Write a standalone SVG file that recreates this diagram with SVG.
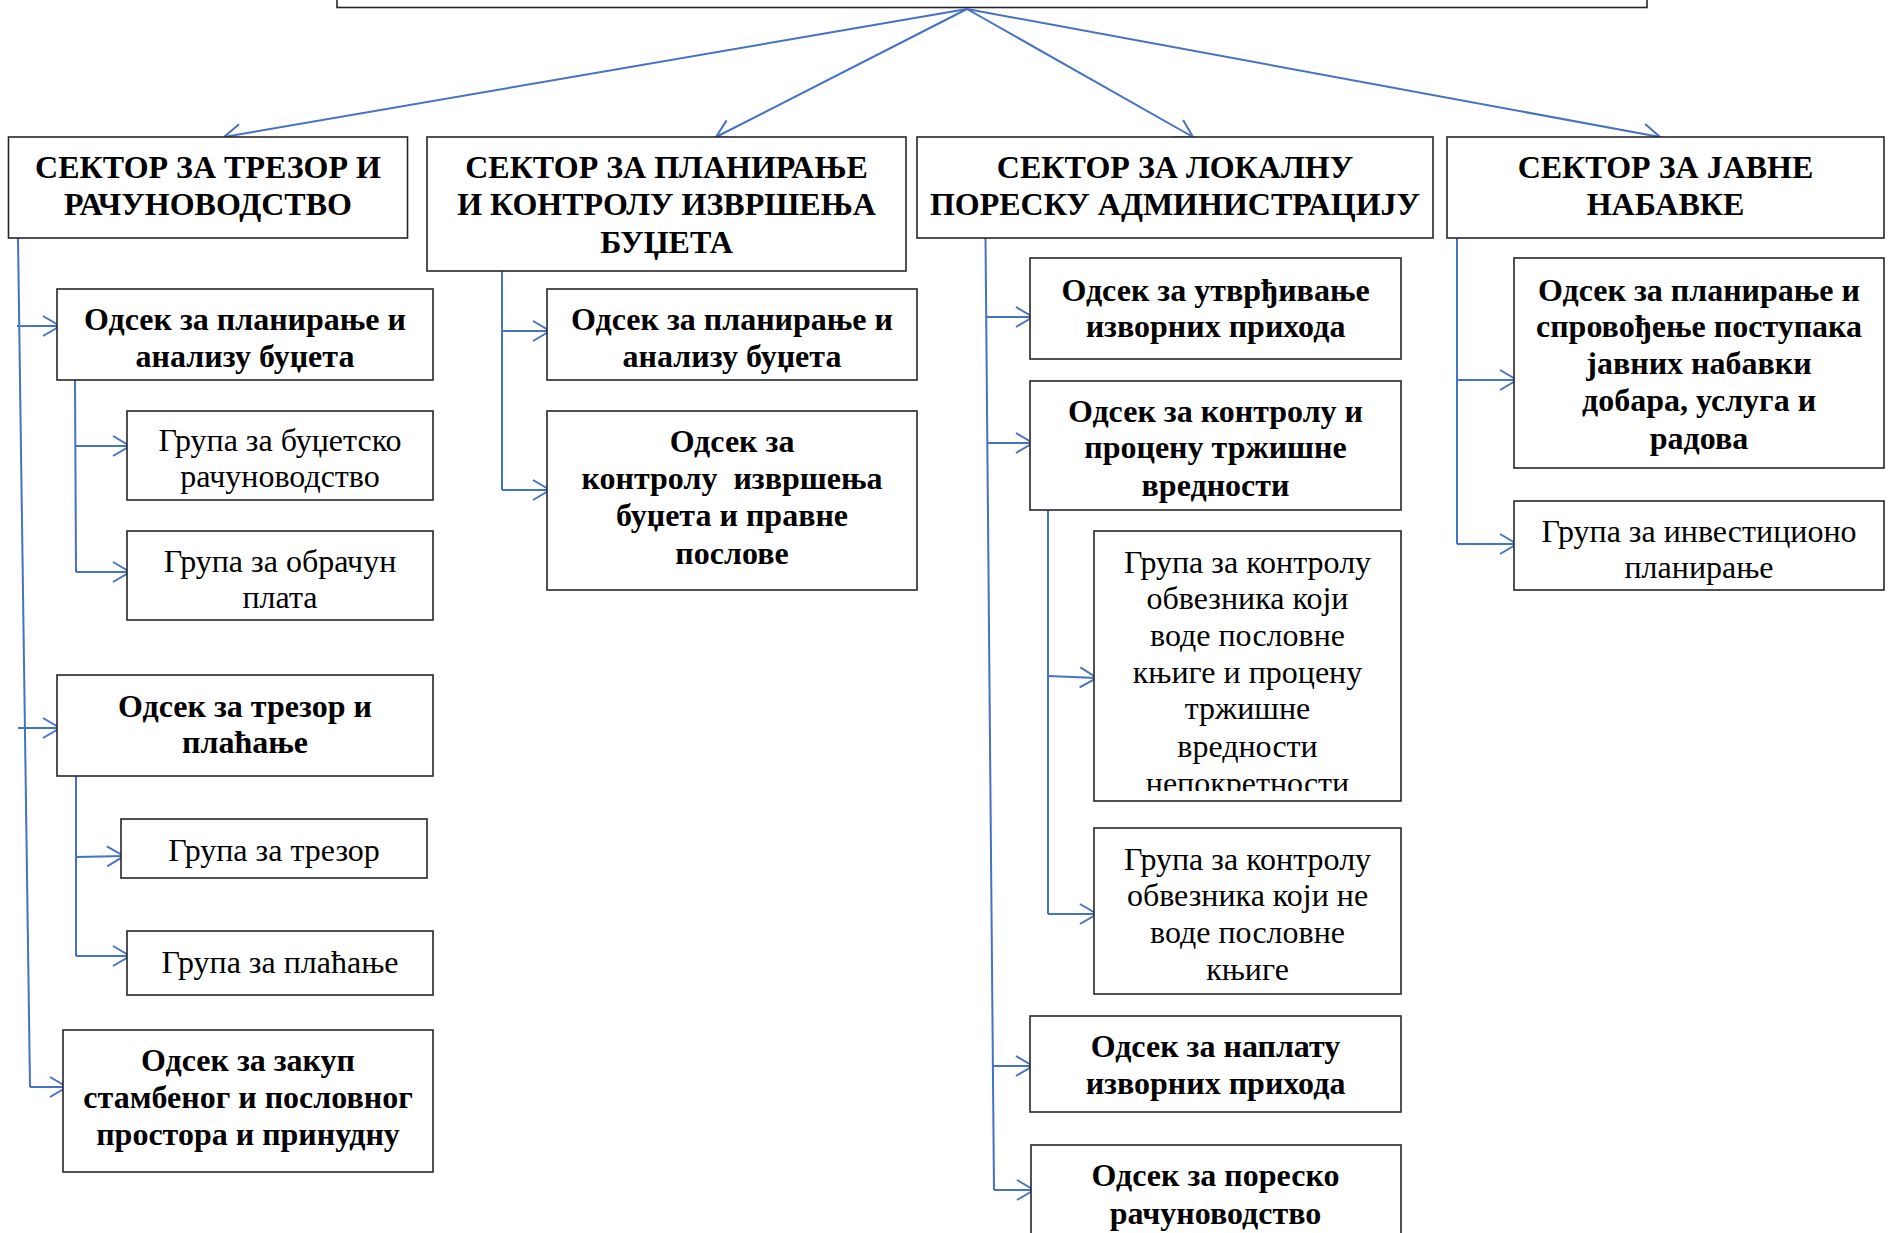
<svg xmlns="http://www.w3.org/2000/svg" width="1896" height="1233" viewBox="0 0 1896 1233">
<defs>
<style>
.box{fill:#fff;stroke:#262626;stroke-width:1.6}
.t{font-family:"Liberation Serif","Times New Roman",serif;font-size:32px;fill:#000;text-anchor:middle}
.b{font-weight:bold}
.h{font-weight:bold;font-size:32px}
.c{fill:none;stroke:#4472C4;stroke-width:2}
</style>
<marker id="ah" viewBox="0 0 19 22" refX="18" refY="11" markerWidth="19" markerHeight="22" orient="auto" markerUnits="userSpaceOnUse">
<path d="M1,1 L18,11 L1,21" fill="none" stroke="#4472C4" stroke-width="2"/>
</marker>
<clipPath id="clipC3"><rect x="1094" y="531" width="307" height="260"/></clipPath>
</defs>
<rect width="1896" height="1233" fill="#fff"/>

<g id="top"><rect class="box" x="337" y="-40" width="1310" height="47.5"/></g>

<g id="connectors">
<line class="c" x1="967" y1="9" x2="224" y2="137" marker-end="url(#ah)"/>
<line class="c" x1="967" y1="9" x2="716" y2="137" marker-end="url(#ah)"/>
<line class="c" x1="967" y1="9" x2="1193" y2="137" marker-end="url(#ah)"/>
<line class="c" x1="967" y1="9" x2="1660" y2="137" marker-end="url(#ah)"/>

<polyline class="c" points="18,238 30,1087"/>
<line class="c" x1="17" y1="326" x2="60" y2="326" marker-end="url(#ah)"/>
<line class="c" x1="18" y1="728" x2="60" y2="728" marker-end="url(#ah)"/>
<line class="c" x1="30" y1="1087" x2="67" y2="1087" marker-end="url(#ah)"/>
<polyline class="c" points="75,380 76,572"/>
<line class="c" x1="75" y1="446" x2="130" y2="446" marker-end="url(#ah)"/>
<line class="c" x1="76" y1="572" x2="130" y2="572" marker-end="url(#ah)"/>
<polyline class="c" points="76,776 76,956"/>
<line class="c" x1="76" y1="857" x2="124" y2="856" marker-end="url(#ah)"/>
<line class="c" x1="76" y1="956" x2="130" y2="956" marker-end="url(#ah)"/>

<polyline class="c" points="502,271 502,490"/>
<line class="c" x1="502" y1="331" x2="550" y2="331" marker-end="url(#ah)"/>
<line class="c" x1="502" y1="490" x2="550" y2="490" marker-end="url(#ah)"/>

<polyline class="c" points="985.5,238 994,1190"/>
<line class="c" x1="986" y1="317" x2="1033" y2="317" marker-end="url(#ah)"/>
<line class="c" x1="987" y1="443" x2="1033" y2="443" marker-end="url(#ah)"/>
<line class="c" x1="993" y1="1066" x2="1033" y2="1066" marker-end="url(#ah)"/>
<line class="c" x1="994" y1="1190" x2="1034" y2="1190" marker-end="url(#ah)"/>
<polyline class="c" points="1048,510 1048,914"/>
<line class="c" x1="1048" y1="676" x2="1097" y2="678" marker-end="url(#ah)"/>
<line class="c" x1="1048" y1="914" x2="1097" y2="914" marker-end="url(#ah)"/>

<polyline class="c" points="1457,238 1457,544"/>
<line class="c" x1="1457" y1="380" x2="1517" y2="380" marker-end="url(#ah)"/>
<line class="c" x1="1457" y1="544" x2="1517" y2="544" marker-end="url(#ah)"/>
</g>

<g id="s1"><rect class="box" x="8.5" y="137" width="399" height="101"/>
<text class="t h" x="208" y="178">СЕКТОР ЗА ТРЕЗОР И</text>
<text class="t h" x="208" y="215">РАЧУНОВОДСТВО</text></g>

<g id="s2"><rect class="box" x="427" y="137" width="479" height="134"/>
<text class="t h" x="666.5" y="178">СЕКТОР ЗА ПЛАНИРАЊЕ</text>
<text class="t h" x="666.5" y="215">И КОНТРОЛУ ИЗВРШЕЊА</text>
<text class="t h" x="666.5" y="253">БУЏЕТА</text></g>

<g id="s3"><rect class="box" x="917" y="137" width="516" height="101"/>
<text class="t h" x="1175" y="178">СЕКТОР ЗА ЛОКАЛНУ</text>
<text class="t h" x="1175" y="215">ПОРЕСКУ АДМИНИСТРАЦИЈУ</text></g>

<g id="s4"><rect class="box" x="1447" y="137" width="437" height="101"/>
<text class="t h" x="1665.5" y="178">СЕКТОР ЗА ЈАВНЕ</text>
<text class="t h" x="1665.5" y="215">НАБАВКЕ</text></g>

<g id="a1"><rect class="box" x="57" y="289" width="376" height="91"/>
<text class="t b" x="245" y="330">Одсек за планирање и</text>
<text class="t b" x="245" y="367">анализу буџета</text></g>

<g id="a2"><rect class="box" x="127" y="411" width="306" height="89"/>
<text class="t" x="280" y="451">Група за буџетско</text>
<text class="t" x="280" y="487">рачуноводство</text></g>

<g id="a3"><rect class="box" x="127" y="531" width="306" height="89"/>
<text class="t" x="280" y="572">Група за обрачун</text>
<text class="t" x="280" y="608">плата</text></g>

<g id="a4"><rect class="box" x="57" y="675" width="376" height="101"/>
<text class="t b" x="245" y="717">Одсек за трезор и</text>
<text class="t b" x="245" y="753">плаћање</text></g>

<g id="a5"><rect class="box" x="121" y="819" width="306" height="59"/>
<text class="t" x="274" y="861">Група за трезор</text></g>

<g id="a6"><rect class="box" x="127" y="931" width="306" height="64"/>
<text class="t" x="280" y="973">Група за плаћање</text></g>

<g id="a7"><rect class="box" x="63" y="1030" width="370" height="142"/>
<text class="t b" x="248" y="1071">Одсек за закуп</text>
<text class="t b" x="248" y="1108">стамбеног и пословног</text>
<text class="t b" x="248" y="1145">простора и принудну</text></g>

<g id="b1"><rect class="box" x="547" y="289" width="370" height="91"/>
<text class="t b" x="732" y="330">Одсек за планирање и</text>
<text class="t b" x="732" y="367">анализу буџета</text></g>

<g id="b2"><rect class="box" x="547" y="411" width="370" height="179"/>
<text class="t b" x="732" y="452">Одсек за</text>
<text class="t b" x="732" y="489" xml:space="preserve">контролу  извршења</text>
<text class="t b" x="732" y="526">буџета и правне</text>
<text class="t b" x="732" y="564">послове</text></g>

<g id="c1"><rect class="box" x="1030" y="258" width="371" height="101"/>
<text class="t b" x="1215.5" y="301">Одсек за утврђивање</text>
<text class="t b" x="1215.5" y="337">изворних прихода</text></g>

<g id="c2"><rect class="box" x="1030" y="381" width="371" height="129"/>
<text class="t b" x="1215.5" y="422">Одсек за контролу и</text>
<text class="t b" x="1215.5" y="458">процену тржишне</text>
<text class="t b" x="1215.5" y="496">вредности</text></g>

<g id="c3"><rect class="box" x="1094" y="531" width="307" height="270"/>
<g clip-path="url(#clipC3)">
<text class="t" x="1247.5" y="573">Група за контролу</text>
<text class="t" x="1247.5" y="609">обвезника који</text>
<text class="t" x="1247.5" y="646">воде пословне</text>
<text class="t" x="1247.5" y="683">књиге и процену</text>
<text class="t" x="1247.5" y="719">тржишне</text>
<text class="t" x="1247.5" y="757">вредности</text>
<text class="t" x="1247.5" y="794">непокретности</text>
</g></g>

<g id="c4"><rect class="box" x="1094" y="828" width="307" height="166"/>
<text class="t" x="1247.5" y="870">Група за контролу</text>
<text class="t" x="1247.5" y="906">обвезника који не</text>
<text class="t" x="1247.5" y="943">воде пословне</text>
<text class="t" x="1247.5" y="980">књиге</text></g>

<g id="c5"><rect class="box" x="1030" y="1016" width="371" height="96"/>
<text class="t b" x="1215.5" y="1057">Одсек за наплату</text>
<text class="t b" x="1215.5" y="1094">изворних прихода</text></g>

<g id="c6"><rect class="box" x="1031" y="1145" width="370" height="120"/>
<text class="t b" x="1215.5" y="1186">Одсек за пореско</text>
<text class="t b" x="1215.5" y="1224">рачуноводство</text></g>

<g id="d1"><rect class="box" x="1514" y="258" width="370" height="210"/>
<text class="t b" x="1699" y="301">Одсек за планирање и</text>
<text class="t b" x="1699" y="337">спровођење поступака</text>
<text class="t b" x="1699" y="374">јавних набавки</text>
<text class="t b" x="1699" y="411">добара, услуга и</text>
<text class="t b" x="1699" y="449">радова</text></g>

<g id="d2"><rect class="box" x="1514" y="501" width="370" height="89"/>
<text class="t" x="1699" y="542">Група за инвестиционо</text>
<text class="t" x="1699" y="578">планирање</text></g>
</svg>
